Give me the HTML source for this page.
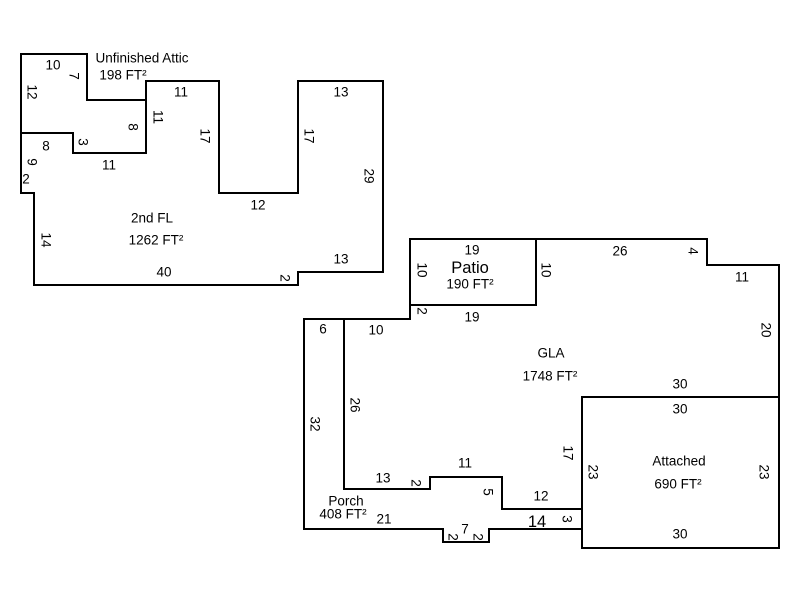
<!DOCTYPE html>
<html><head><meta charset="utf-8"><style>
html,body{margin:0;padding:0;background:#fff;}
svg{display:block;}
text{font-family:"Liberation Sans",Arial,sans-serif;font-size:13.5px;fill:#000;text-anchor:middle;dominant-baseline:central;}
</style></head><body>
<svg width="800" height="600" viewBox="0 0 800 600" xmlns="http://www.w3.org/2000/svg">
<g fill="none" stroke="#000" stroke-width="2">
<polygon points="21,54 87,54 87,100 146,100 146,153 73,153 73,133 21,133"/>
<polyline points="21,133 21,193 34,193 34,285 298,285 298,272 383,272 383,81 298,81 298,193 219,193 219,81 146,81 146,100"/>
<rect x="410" y="239" width="126" height="66"/>
<polyline points="536,239 707,239 707,265 779,265 779,397 582,397 582,509 502,509 502,477 430,477 430,489 344,489 344,319 410,319 410,305"/>
<polyline points="344,319 304,319 304,529 443,529 443,542 489,542 489,529 582,529"/>
<rect x="582" y="397" width="197" height="151"/>
</g>
<g>
<text x="142" y="58">Unfinished Attic</text>
<text x="123" y="75">198 FT²</text>
<text x="53" y="65">10</text>
<text x="74" y="76" transform="rotate(90 74 76)">7</text>
<text x="32" y="92" transform="rotate(90 32 92)">12</text>
<text x="133" y="127" transform="rotate(90 133 127)">8</text>
<text x="158" y="117" transform="rotate(90 158 117)">11</text>
<text x="83" y="142" transform="rotate(90 83 142)">3</text>
<text x="46" y="146">8</text>
<text x="109" y="165">11</text>
<text x="32" y="162" transform="rotate(90 32 162)">9</text>
<text x="26" y="179">2</text>
<text x="181" y="92">11</text>
<text x="205" y="136" transform="rotate(90 205 136)">17</text>
<text x="309" y="136" transform="rotate(90 309 136)">17</text>
<text x="341" y="92">13</text>
<text x="369" y="176" transform="rotate(90 369 176)">29</text>
<text x="258" y="205">12</text>
<text x="152" y="218">2nd FL</text>
<text x="156" y="240">1262 FT²</text>
<text x="46" y="240" transform="rotate(90 46 240)">14</text>
<text x="164" y="272">40</text>
<text x="285" y="278" transform="rotate(90 285 278)">2</text>
<text x="341" y="259">13</text>

<text x="472" y="250">19</text>
<text x="470" y="268" style="font-size:16.5px">Patio</text>
<text x="470" y="284">190 FT²</text>
<text x="422" y="270" transform="rotate(90 422 270)">10</text>
<text x="546" y="270" transform="rotate(90 546 270)">10</text>
<text x="620" y="251">26</text>
<text x="693" y="251" transform="rotate(90 693 251)">4</text>
<text x="742" y="277">11</text>
<text x="766" y="330" transform="rotate(90 766 330)">20</text>
<text x="422" y="311" transform="rotate(90 422 311)">2</text>
<text x="472" y="317">19</text>
<text x="323" y="329">6</text>
<text x="376" y="330">10</text>
<text x="551" y="353">GLA</text>
<text x="550" y="376">1748 FT²</text>
<text x="680" y="384">30</text>
<text x="680" y="409">30</text>
<text x="355" y="405" transform="rotate(90 355 405)">26</text>
<text x="315" y="424" transform="rotate(90 315 424)">32</text>
<text x="568" y="453" transform="rotate(90 568 453)">17</text>
<text x="593" y="472" transform="rotate(90 593 472)">23</text>
<text x="679" y="461">Attached</text>
<text x="678" y="484">690 FT²</text>
<text x="764" y="472" transform="rotate(90 764 472)">23</text>
<text x="465" y="463">11</text>
<text x="383" y="478">13</text>
<text x="416" y="483" transform="rotate(90 416 483)">2</text>
<text x="488" y="492" transform="rotate(90 488 492)">5</text>
<text x="541" y="496">12</text>
<text x="346" y="501">Porch</text>
<text x="343" y="514">408 FT²</text>
<text x="384" y="519">21</text>
<text x="537" y="522" style="font-size:16.5px">14</text>
<text x="567" y="519" transform="rotate(90 567 519)">3</text>
<text x="453" y="537" transform="rotate(90 453 537)">2</text>
<text x="465" y="529">7</text>
<text x="478" y="537" transform="rotate(90 478 537)">2</text>
<text x="680" y="534">30</text>
</g>
</svg>
</body></html>
